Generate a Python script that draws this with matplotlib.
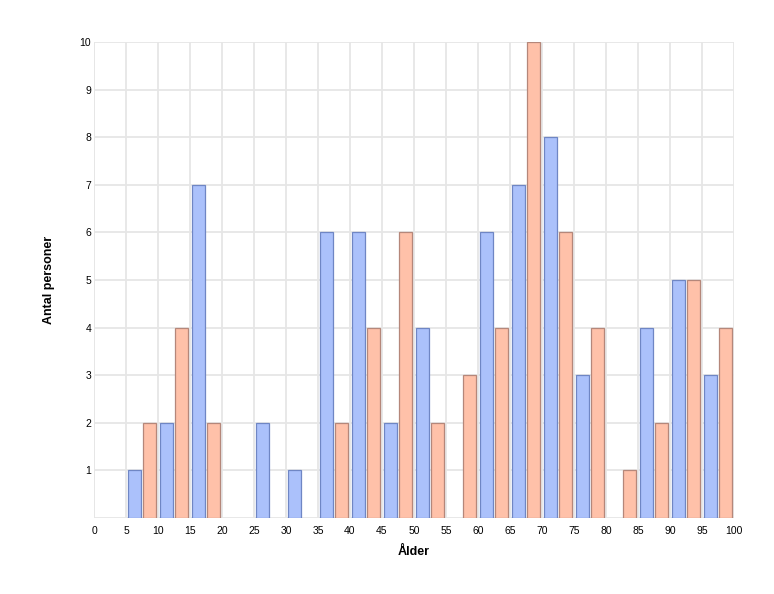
import numpy as np
import matplotlib
matplotlib.use("Agg")
import matplotlib.pyplot as plt

plt.rcParams["font.family"] = ["Liberation Sans", "DejaVu Sans"]

# ── data: counts per 5-year age bin (bin start), two series ──────────────────
bin_starts = [5, 10, 15, 20, 25, 30, 35, 40, 45, 50, 55, 60, 65, 70, 75, 80, 85, 90, 95]
blue_vals  = [1, 2, 7, 0, 2, 1, 6, 6, 2, 4, 0, 6, 7, 8, 3, 0, 4, 5, 3]
salmon_vals = [2, 4, 2, 0, 0, 0, 2, 4, 6, 2, 3, 4, 10, 6, 4, 1, 2, 5, 4]

x_ticks = list(range(0, 101, 5))
y_ticks = list(range(1, 11))

blue_fill, blue_edge = "#abc1fb", "#6f86c4"
salmon_fill, salmon_edge = "#ffc1a9", "#b5877a"

fig = plt.figure(figsize=(7.74, 5.94), dpi=100)
ax = fig.add_axes([94 / 774, 76 / 594, 640 / 774, 476 / 594])

bins = np.array(bin_starts, dtype=float)
bw = 1.94
for xs, vals, fc, ec in [(bins + 1.33, blue_vals, blue_fill, blue_edge),
                         (bins + 3.67, salmon_vals, salmon_fill, salmon_edge)]:
    vals = np.array(vals, dtype=float)
    m = vals > 0
    ax.bar(xs[m], vals[m], width=bw, color=fc, edgecolor=ec, linewidth=0.9, zorder=3)

ax.set_xlim(0, 100)
ax.set_ylim(0, 10)
ax.set_xticks(x_ticks)
ax.set_yticks(y_ticks)
ax.tick_params(axis="both", length=0, labelsize=7.5, colors="black")
ax.tick_params(axis="x", pad=6)
ax.tick_params(axis="y", pad=2)

ax.grid(True, color="#e6e6e6", linewidth=1.3, zorder=0)
ax.axhline(0, color="#e6e6e6", linewidth=1.3, zorder=1)
ax.axvline(0, color="#e6e6e6", linewidth=1.3, zorder=1)
for s in ax.spines.values():
    s.set_visible(False)

ax.set_xlabel("Ålder", fontsize=9, fontweight="bold", labelpad=7)
ax.set_ylabel("Antal personer", fontsize=9, fontweight="bold", labelpad=18)

fig.savefig("out.png", dpi=100)
